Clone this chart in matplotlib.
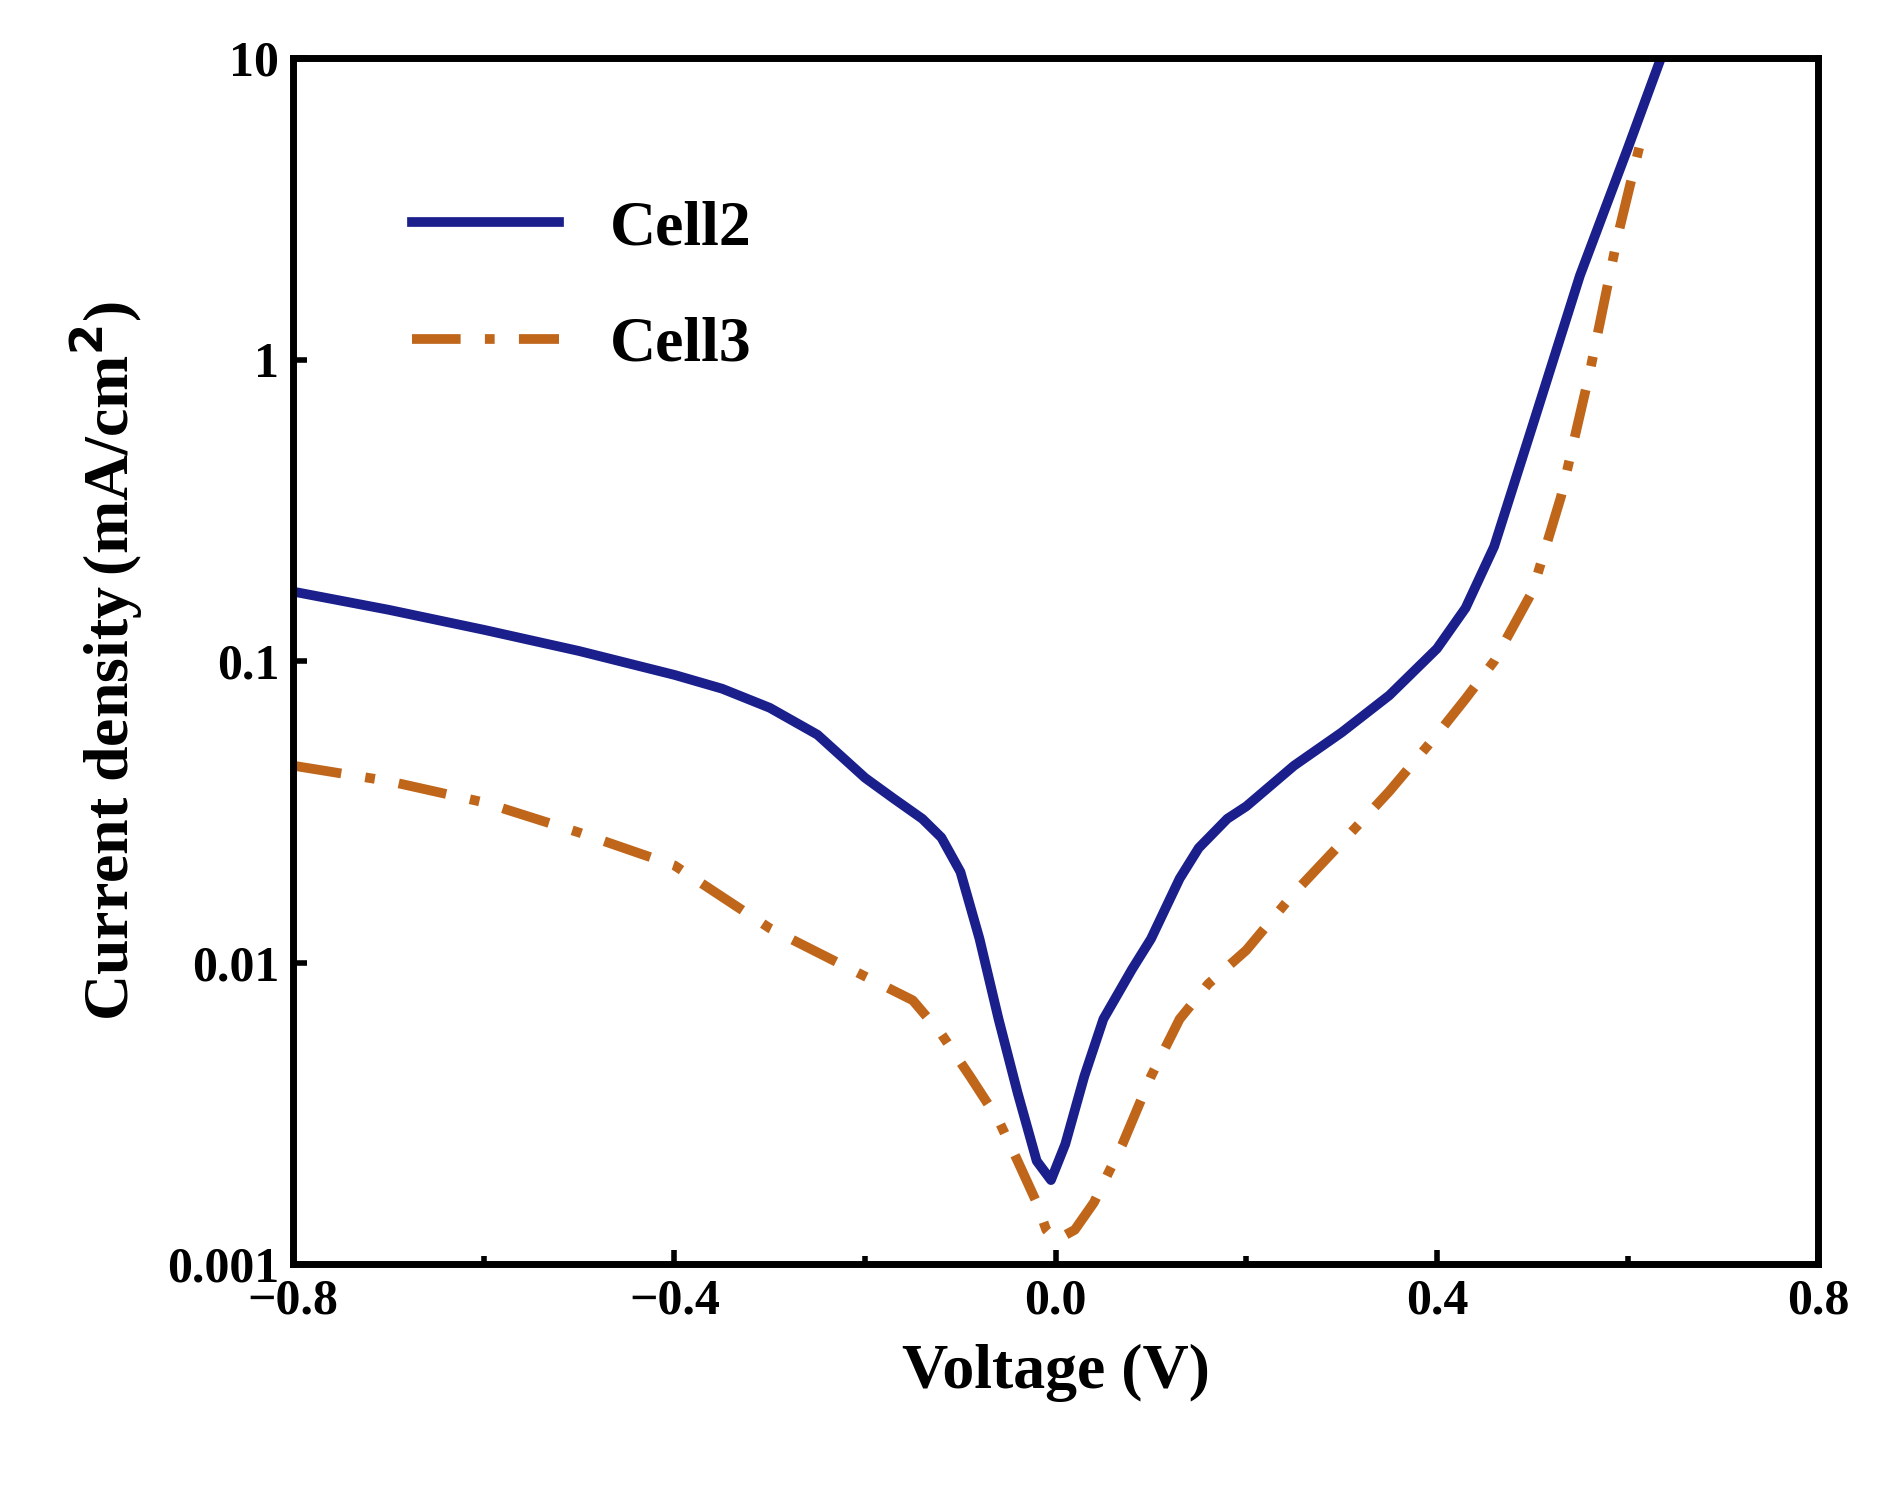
import matplotlib
matplotlib.use("Agg")
import matplotlib.pyplot as plt
from matplotlib.ticker import FixedLocator, NullLocator

v2 = [-0.8,-0.7,-0.6,-0.5,-0.4,-0.35,-0.3,-0.25,-0.2,-0.17,-0.14,-0.12,-0.1,-0.08,-0.06,-0.04,-0.02,-0.005,0.01,0.03,0.05,0.08,0.1,0.13,0.15,0.18,0.2,0.25,0.3,0.35,0.4,0.43,0.46,0.5,0.55,0.6,0.635]
j2 = [0.17,0.148,0.127,0.108,0.09,0.081,0.07,0.057,0.041,0.035,0.03,0.026,0.02,0.012,0.0065,0.0037,0.0022,0.0019,0.0025,0.0042,0.0065,0.0095,0.012,0.019,0.024,0.03,0.033,0.045,0.058,0.077,0.11,0.15,0.24,0.6,1.9,5.0,10.0]
v3 = [-0.8,-0.7,-0.6,-0.5,-0.4,-0.3,-0.2,-0.15,-0.12,-0.09,-0.06,-0.04,-0.02,-0.01,0.0,0.02,0.04,0.07,0.1,0.13,0.16,0.2,0.25,0.3,0.35,0.4,0.43,0.46,0.5,0.53,0.56,0.59,0.615]
j3 = [0.045,0.04,0.034,0.027,0.021,0.013,0.009,0.0075,0.0058,0.0042,0.003,0.0022,0.0016,0.0013,0.0012,0.0013,0.0016,0.0025,0.0042,0.0065,0.0085,0.011,0.017,0.025,0.037,0.057,0.075,0.1,0.17,0.35,0.9,2.6,5.5]
xticks = [-0.8,-0.4,0.0,0.4,0.8]
xlabels = ["\u22120.8","\u22120.4","0.0","0.4","0.8"]
yticks = [0.001,0.01,0.1,1,10]
ylabels = ["0.001","0.01","0.1","1","10"]

plt.rcParams["font.family"] = "Liberation Serif"
plt.rcParams["font.weight"] = "bold"
fig = plt.figure(figsize=(18.92,14.89), dpi=100)
ax = fig.add_axes([0.155,0.151,0.806,0.81])
ax.plot(v2, j2, color="#1a1f8c", lw=7, label="Cell2")
ax.plot(v3, j3, color="#c0661a", lw=7, ls=(0,(5,2.5,1,2.5)), label="Cell3")
ax.set_yscale("log")
ax.set_xlim(-0.8,0.8)
ax.set_ylim(0.001,10)
ax.xaxis.set_major_locator(FixedLocator(xticks))
ax.set_xticklabels(xlabels)
ax.xaxis.set_minor_locator(FixedLocator([-0.6,-0.2,0.2,0.6]))
ax.yaxis.set_major_locator(FixedLocator(yticks))
ax.set_yticklabels(ylabels)
ax.yaxis.set_minor_locator(NullLocator())
ax.tick_params(which="both", direction="in", width=4, labelsize=36, pad=10)
ax.tick_params(which="major", length=10)
ax.tick_params(which="minor", length=6)
for s in ax.spines.values():
    s.set_linewidth(5)
ax.set_xlabel("Voltage (V)", fontsize=46, fontweight="bold", labelpad=14)
ax.set_ylabel("Current density$\\,$(mA/cm$^{\\mathbf{2}}$)", fontsize=46, fontweight="bold", labelpad=16)
ax.legend(loc="upper left", bbox_to_anchor=(0.04,0.93), frameon=False, fontsize=46, handlelength=2.3, labelspacing=0.9)
fig.savefig("out.png", dpi=100)
